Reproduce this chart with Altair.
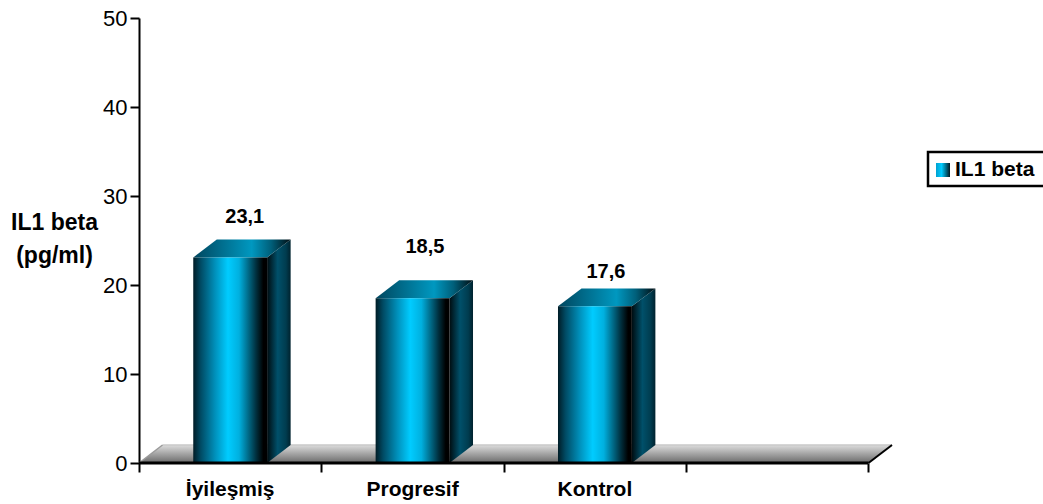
import altair as alt
import pandas as pd

categories = ["İyileşmiş", "Progresif", "Kontrol"]
values = [23.1, 18.5, 17.6]
value_labels = ["23,1", "18,5", "17,6"]
label_lift = [2.5, 3.75, 1.84]
label_shift = [0.08, 0.068, 0.06]
slot_edges = [0, 1, 2, 3, 4]
y_ticks = [0, 10, 20, 30, 40, 50]
series_name = "IL1 beta"

# Extrusion of the pseudo-3D columns, in axis units
BAR_W = 0.405
DX = 0.129
DY = 2.02
FONT = "Liberation Sans"


def grad(stops, vertical=False):
    return alt.LinearGradient(
        gradient="linear",
        x1=0, y1=0,
        x2=0 if vertical else 1,
        y2=1 if vertical else 0,
        stops=[alt.GradientStop(offset=o, color=c) for o, c in stops],
    )


front_fill = grad([(0, "#001c26"), (0.1, "#004a63"), (0.3, "#0092bd"), (0.47, "#00ccff"),
                   (0.62, "#00b0df"), (0.85, "#00303f"), (0.95, "#000000"), (1, "#000000")])
side_fill = grad([(0, "#000c10"), (0.45, "#00506a"), (0.8, "#003c4f"), (1, "#00222e")])
top_fill = grad([(0, "#00465e"), (0.6, "#0098c0"), (0.8, "#005f7a"), (1, "#000d12")])
floor_fill = grad([(0, "#dcdcdc"), (1, "#6a6a6a")], vertical=True)

x_scale = alt.Scale(domain=[0, 4 + DX], nice=False, zero=False)
y_scale = alt.Scale(domain=[0, 50], nice=False)

fronts, sides, tops, labels = [], [], [], []
for i, (cat, v, txt) in enumerate(zip(categories, values, value_labels)):
    left = i + 0.5 - BAR_W / 2
    right = left + BAR_W
    fronts.append({"cat": cat, "x": left, "x2": right, "y": v, "y2": 0})
    sides += [
        {"cat": cat, "x": right, "y": v, "y2": 0},
        {"cat": cat, "x": right + DX, "y": v + DY, "y2": DY},
    ]
    tops += [
        {"cat": cat, "x": left, "y": v, "y2": v},
        {"cat": cat, "x": left + DX, "y": v, "y2": v + DY},
        {"cat": cat, "x": right, "y": v, "y2": v + DY},
        {"cat": cat, "x": right + DX, "y": v + DY, "y2": v + DY},
    ]
    labels.append({"cat": cat, "x": i + 0.5, "vx": i + 0.5 + label_shift[i],
                   "y": v + DY + label_lift[i], "txt": txt})

floor = pd.DataFrame([
    {"x": 0, "y": 0, "y2": 0},
    {"x": DX, "y": 0, "y2": DY},
    {"x": 4, "y": 0, "y2": DY},
    {"x": 4 + DX, "y": DY, "y2": DY},
])

X = alt.X("x:Q", scale=x_scale, title=None,
          axis=alt.Axis(values=slot_edges, labels=False, domain=False, grid=False,
                        tickSize=9, tickWidth=2, tickColor="black"))
Y = alt.Y("y:Q", scale=y_scale,
          title=["IL1 beta", "(pg/ml)"],
          axis=alt.Axis(values=y_ticks, grid=False, domainColor="black", domainWidth=2,
                        tickColor="black", tickWidth=2, tickSize=9,
                        labelFont=FONT, labelFontSize=22, labelColor="black", labelPadding=3,
                        titleFont=FONT, titleFontSize=23, titleFontWeight="bold",
                        titleColor="black", titleAngle=0, titleAlign="center",
                        titleBaseline="middle", titleX=-85, titleY=204, titleLineHeight=33))

floor_layer = alt.Chart(floor).mark_area(fill=floor_fill, stroke=None).encode(x=X, y=Y, y2="y2:Q")
back_edge = alt.Chart(pd.DataFrame({"x": [DX], "x2": [4 + DX], "y": [DY]})).mark_rule(
    color="#c8c8c8", strokeWidth=1.5).encode(x="x:Q", x2="x2:Q", y="y:Q")
left_edge = alt.Chart(pd.DataFrame({"x": [0, DX], "y": [0, DY]})).mark_line(
    color="#9a9a9a", strokeWidth=1.5).encode(x="x:Q", y="y:Q")
right_edge = alt.Chart(pd.DataFrame({"x": [4, 4 + DX], "y": [0, DY]})).mark_line(
    color="black", strokeWidth=2).encode(x="x:Q", y="y:Q")

side_layer = alt.Chart(pd.DataFrame(sides)).mark_area(fill=side_fill).encode(
    x="x:Q", y="y:Q", y2="y2:Q", detail="cat:N")
top_layer = alt.Chart(pd.DataFrame(tops)).mark_area(fill=top_fill).encode(
    x="x:Q", y="y:Q", y2="y2:Q", detail="cat:N")
front_layer = alt.Chart(pd.DataFrame(fronts)).mark_rect(fill=front_fill).encode(
    x="x:Q", x2="x2:Q", y="y:Q", y2="y2:Q")

baseline = alt.Chart(pd.DataFrame({"x": [0], "x2": [4], "y": [0]})).mark_rule(
    color="black", strokeWidth=3).encode(x="x:Q", x2="x2:Q", y="y:Q")

label_df = pd.DataFrame(labels)
value_text = alt.Chart(label_df).mark_text(
    font=FONT, fontSize=20, fontWeight="bold", color="black", baseline="middle"
).encode(x="vx:Q", y="y:Q", text="txt:N")
category_text = alt.Chart(label_df).mark_text(
    font=FONT, fontSize=21, fontWeight="bold", color="black", baseline="middle"
).encode(x="x:Q", y=alt.value(490 - 18), text="cat:N")

# Legend box with its gradient swatch, placed in the right margin
legend_df = pd.DataFrame({"name": [series_name]})
legend_box = alt.Chart(legend_df).mark_rect(fill="white", stroke="black", strokeWidth=2.5).encode(
    x=alt.value(928 - 139), x2=alt.value(1047 - 139), y=alt.value(152 - 18), y2=alt.value(186 - 18))
legend_swatch = alt.Chart(legend_df).mark_rect(
    fill=grad([(0, "#00a0d0"), (0.4, "#00ccff"), (1, "#001820")])).encode(
    x=alt.value(936 - 139), x2=alt.value(950 - 139), y=alt.value(163 - 18), y2=alt.value(177 - 18))
legend_text = alt.Chart(legend_df).mark_text(
    font=FONT, fontSize=21, fontWeight="bold", color="black", align="left", baseline="middle"
).encode(x=alt.value(955 - 139), y=alt.value(170 - 18), text="name:N")

chart = alt.layer(
    floor_layer, back_edge, left_edge, right_edge,
    side_layer, top_layer, front_layer, baseline,
    value_text, category_text, legend_box, legend_swatch, legend_text,
).properties(
    width=753, height=445,
    padding={"left": 139, "top": 18, "right": 151, "bottom": 41},
    autosize=alt.AutoSizeParams(type="none"),
    background="white",
).configure_view(stroke=None)

chart.save("out.html", embed_options={"renderer": "svg", "actions": False})
